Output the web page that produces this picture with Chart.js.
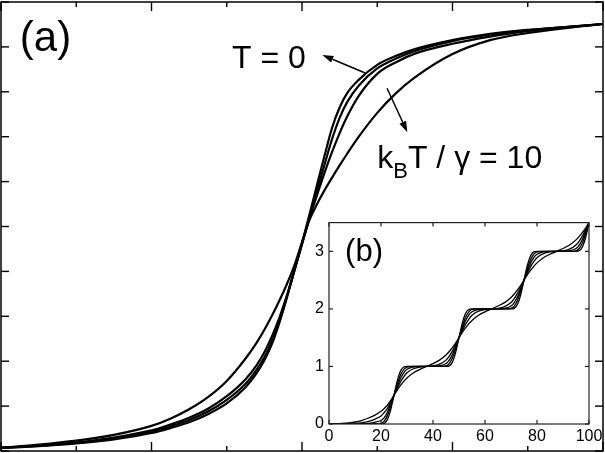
<!DOCTYPE html>
<html><head><meta charset="utf-8">
<script src="https://cdn.jsdelivr.net/npm/chart.js@4.4.1/dist/chart.umd.min.js"></script>
<style>
html,body{margin:0;padding:0;background:#fff;}
#wrap{position:relative;width:605px;height:453px;overflow:hidden;background:#fff;}
#main{position:absolute;left:0;top:0;}
#inset{position:absolute;left:305px;top:208px;}
</style></head><body>
<div id="wrap"><canvas id="main" width="605" height="453"></canvas><canvas id="inset" width="310" height="245"></canvas></div>
<script>
// ---------- main panel (a) data ----------
const mainX = [0,0.5,1,1.5,2,2.25,2.5,2.75,3,3.25,3.4,3.5,3.6,3.7,3.8,3.9,4,4.1,4.2,4.3,4.4,4.5,4.6,4.75,5,5.25,5.5,6,6.5,7,7.5,8];
const curveT0   = [0.07,0.11,0.17,0.26,0.40,0.51,0.64,0.82,1.06,1.42,1.74,2.02,2.38,2.86,3.42,4.02,4.63,5.27,5.93,6.58,7.20,7.65,7.97,8.26,8.60,8.80,8.95,9.15,9.29,9.38,9.44,9.51];
const curveT1   = [0.07,0.115,0.18,0.28,0.43,0.55,0.69,0.88,1.14,1.50,1.82,2.09,2.44,2.90,3.44,4.03,4.62,5.20,5.80,6.38,6.95,7.42,7.77,8.13,8.52,8.74,8.91,9.13,9.27,9.37,9.44,9.51];
const curveT2   = [0.07,0.12,0.19,0.30,0.46,0.59,0.74,0.94,1.22,1.60,1.92,2.20,2.55,2.97,3.47,4.03,4.60,5.19,5.70,6.20,6.66,7.08,7.45,7.90,8.40,8.66,8.85,9.07,9.23,9.35,9.44,9.51];
const curveT10  = [0.07,0.14,0.23,0.36,0.56,0.72,0.93,1.20,1.56,2.06,2.42,2.70,3.01,3.35,3.72,4.14,4.65,5.15,5.50,5.81,6.09,6.36,6.62,6.99,7.53,7.97,8.32,8.84,9.15,9.31,9.42,9.51];
const mainXTicks = [0,1,2,3,4,5,6,7,8];
const mainYTicks = [0,1,2,3,4,5,6,7,8,9,10];

// ---------- inset panel (b) data ----------
const insetX = [0,2.5,5,7.5,10,12.5,15,17.5,20,21.25,22.5,23.75,25,26.25,27.5,28.75,30,32.5,35,37.5,40,42.5,45,46.25,47.5,48.75,50,51.25,52.5,53.75,55,57.5,60,62.5,65,67.5,70,71.25,72.5,73.75,75,76.25,77.5,78.75,80,82.5,85,87.5,90,92.5,95,96.25,97.5,98.75,100];
const stair0 = [0,0,0,0,0,0,0,0,0,0.01,0.08,0.25,0.5, 0.75,0.92,0.99,1,1,1,1, 1,1,1,1.01,1.08,1.25,1.5, 1.75,1.92,1.99,2,2,2,2, 2,2,2,2.01,2.08,2.25,2.5, 2.75,2.92,2.99,3,3,3,3, 3,3,3,3.01,3.08,3.25,3.5];
const stair1 = [0,0,0,0,0,0,0,0,0.01,0.05,0.15,0.31,0.5, 0.69,0.85,0.95,0.99,1,1,1, 1,1,1.01,1.05,1.15,1.31,1.5, 1.69,1.85,1.95,1.99,2,2,2, 2,2,2.01,2.05,2.15,2.31,2.5, 2.69,2.85,2.95,2.99,3,3,3, 3,3,3.01,3.05,3.15,3.31,3.5];
const stair2 = [0,0,0,0,0,0.005,0.01,0.03,0.06,0.11,0.21,0.35,0.5, 0.65,0.79,0.89,0.95,0.99,1,1, 1,1.01,1.05,1.11,1.21,1.35,1.5, 1.65,1.79,1.89,1.95,1.99,2,2, 2,2.01,2.05,2.11,2.21,2.35,2.5, 2.65,2.79,2.89,2.95,2.99,3,3, 3,3.01,3.05,3.11,3.21,3.35,3.5];
const stair3 = [0,0,0,0.005,0.01,0.02,0.04,0.08,0.14,0.2,0.27,0.38,0.5, 0.62,0.73,0.82,0.89,0.96,0.99,1, 1.01,1.04,1.11,1.18,1.27,1.38,1.5, 1.62,1.73,1.82,1.89,1.96,1.99,2, 2.01,2.04,2.11,2.18,2.27,2.38,2.5, 2.62,2.73,2.82,2.89,2.96,2.99,3, 3.01,3.04,3.11,3.18,3.27,3.38,3.5];
const stair4 = [0,0.003,0.01,0.02,0.035,0.06,0.1,0.15,0.22,0.27,0.33,0.41,0.5, 0.59,0.67,0.74,0.8,0.89,0.95,1, 1.05,1.11,1.2,1.26,1.33,1.41,1.5, 1.59,1.67,1.74,1.8,1.89,1.95,2, 2.05,2.11,2.2,2.26,2.33,2.41,2.5, 2.59,2.67,2.74,2.8,2.89,2.95,3, 3.05,3.11,3.2,3.26,3.33,3.41,3.5];
const insetXTicks = [0,20,40,60,80,100];
const insetYTicks = [0,1,2,3];

// ---------- annotations (data units of panel a) ----------
const labelA = {text:'(a)', x:0.25, y:8.91};
const labelT0 = {text:'T = 0', x:3.07, y:8.53};
const labelKT = {x:5.0, y:6.30};
const arrowT0 = {x1:4.84, y1:8.42, x2:4.27, y2:8.82};
const arrowKT = {x1:5.13, y1:8.08, x2:5.40, y2:7.10};
const labelB = {text:'(b)', x:6.2, y:2.83};

const FONT = '"Liberation Sans", Arial, Helvetica, sans-serif';

function pts(xs, ys){ return xs.map((x,i)=>({x:x, y:ys[i]})); }
function seg(ctx,x1,y1,x2,y2){ ctx.beginPath(); ctx.moveTo(x1,y1); ctx.lineTo(x2,y2); ctx.stroke(); }
function arrow(ctx,x1,y1,x2,y2){
  const ang = Math.atan2(y2-y1, x2-x1), L = 11, W = 3.6;
  const bx = x2 - L*Math.cos(ang), by = y2 - L*Math.sin(ang);
  seg(ctx,x1,y1,bx,by);
  ctx.beginPath();
  ctx.moveTo(x2,y2);
  ctx.lineTo(bx + W*Math.sin(ang), by - W*Math.cos(ang));
  ctx.lineTo(bx - W*Math.sin(ang), by + W*Math.cos(ang));
  ctx.closePath(); ctx.fill();
}

const mainDeco = {
  id:'mainDeco',
  afterDraw(chart){
    const {ctx, chartArea:a} = chart; const sx = chart.scales.x, sy = chart.scales.y;
    ctx.save();
    ctx.strokeStyle = '#000'; ctx.fillStyle = '#000';
    ctx.lineWidth = 1.5;
    ctx.strokeRect(a.left, a.top, a.right-a.left, a.bottom-a.top);
    ctx.lineWidth = 1.4;
    mainXTicks.forEach(v=>{
      const p = sx.getPixelForValue(v); const len = (v%2===0) ? 9 : 5;
      seg(ctx,p,a.top,p,a.top+len); seg(ctx,p,a.bottom,p,a.bottom-len);
    });
    mainYTicks.forEach(v=>{
      const p = sy.getPixelForValue(v);
      seg(ctx,a.left,p,a.left+8,p); seg(ctx,a.right,p,a.right-8,p);
    });
    ctx.textBaseline = 'alphabetic'; ctx.textAlign = 'left';
    ctx.font = '42px ' + FONT;
    ctx.fillText(labelA.text, sx.getPixelForValue(labelA.x), sy.getPixelForValue(labelA.y));
    ctx.font = '32px ' + FONT;
    ctx.fillText(labelT0.text, sx.getPixelForValue(labelT0.x), sy.getPixelForValue(labelT0.y));
    let kx = sx.getPixelForValue(labelKT.x), ky = sy.getPixelForValue(labelKT.y);
    ctx.fillText('k', kx, ky); kx += ctx.measureText('k').width;
    ctx.font = '22px ' + FONT;
    ctx.fillText('B', kx, ky + 10); kx += ctx.measureText('B').width;
    ctx.font = '32px ' + FONT;
    ctx.fillText('T / γ = 10', kx, ky);
    ctx.lineWidth = 1.5;
    arrow(ctx, sx.getPixelForValue(arrowT0.x1), sy.getPixelForValue(arrowT0.y1), sx.getPixelForValue(arrowT0.x2), sy.getPixelForValue(arrowT0.y2));
    arrow(ctx, sx.getPixelForValue(arrowKT.x1), sy.getPixelForValue(arrowKT.y1), sx.getPixelForValue(arrowKT.x2), sy.getPixelForValue(arrowKT.y2));
    ctx.restore();
  }
};

const mk = (ys) => ({data: pts(mainX, ys), borderColor:'#000', borderWidth:2.2, pointRadius:0, cubicInterpolationMode:'monotone', fill:false});
new Chart(document.getElementById('main'), {
  type:'line',
  data:{datasets:[mk(curveT10), mk(curveT2), mk(curveT1), mk(curveT0)]},
  options:{
    responsive:false, animation:false,
    layout:{padding:{left:1, top:2, right:2, bottom:2}},
    plugins:{legend:{display:false}, tooltip:{enabled:false}},
    scales:{
      x:{type:'linear', min:0, max:8, display:false},
      y:{type:'linear', min:0, max:10, display:false}
    }
  },
  plugins:[mainDeco]
});

const insetDeco = {
  id:'insetDeco',
  beforeDatasetsDraw(chart){
    const {ctx, chartArea:a} = chart;
    ctx.save(); ctx.fillStyle = '#fff';
    ctx.fillRect(a.left, a.top, a.right-a.left, a.bottom-a.top);
    ctx.restore();
  },
  afterDraw(chart){
    const {ctx, chartArea:a} = chart; const sx = chart.scales.x, sy = chart.scales.y;
    ctx.save();
    ctx.strokeStyle = '#222'; ctx.fillStyle = '#000'; ctx.lineWidth = 1.2;
    ctx.strokeRect(a.left, a.top, a.right-a.left, a.bottom-a.top);
    insetXTicks.forEach(v=>{
      const p = sx.getPixelForValue(v);
      seg(ctx,p,a.top,p,a.top+4); seg(ctx,p,a.bottom,p,a.bottom-4);
    });
    insetYTicks.forEach(v=>{
      const p = sy.getPixelForValue(v);
      seg(ctx,a.left,p,a.left+4,p); seg(ctx,a.right,p,a.right-4,p);
    });
    ctx.font = '31px ' + FONT; ctx.textAlign = 'left'; ctx.textBaseline = 'alphabetic';
    ctx.fillText(labelB.text, sx.getPixelForValue(labelB.x), sy.getPixelForValue(labelB.y));
    ctx.restore();
  }
};

const mi = (ys) => ({data: pts(insetX, ys), borderColor:'#000', borderWidth:1.3, pointRadius:0, cubicInterpolationMode:'monotone', fill:false});
new Chart(document.getElementById('inset'), {
  type:'line',
  data:{datasets:[mi(stair0), mi(stair1), mi(stair2), mi(stair3), mi(stair4)]},
  options:{
    responsive:false, animation:false,
    layout:{padding:{left:0, top:14, right:26, bottom:0}},
    plugins:{legend:{display:false}, tooltip:{enabled:false}},
    scales:{
      x:{type:'linear', min:0, max:100,
         ticks:{stepSize:20, color:'#000', font:{size:16, family:FONT}, padding:3, maxRotation:0},
         grid:{drawOnChartArea:false, drawTicks:false}, border:{display:false},
         afterFit(s){ s.height = 29; }},
      y:{type:'linear', min:0, max:3.5,
         ticks:{stepSize:1, color:'#000', font:{size:16, family:FONT}, padding:5},
         grid:{drawOnChartArea:false, drawTicks:false}, border:{display:false},
         afterBuildTicks(s){ s.ticks = s.ticks.filter(t => Number.isInteger(t.value)); },
         afterFit(s){ s.width = 24; }}
    }
  },
  plugins:[insetDeco]
});
</script>
</body></html>
